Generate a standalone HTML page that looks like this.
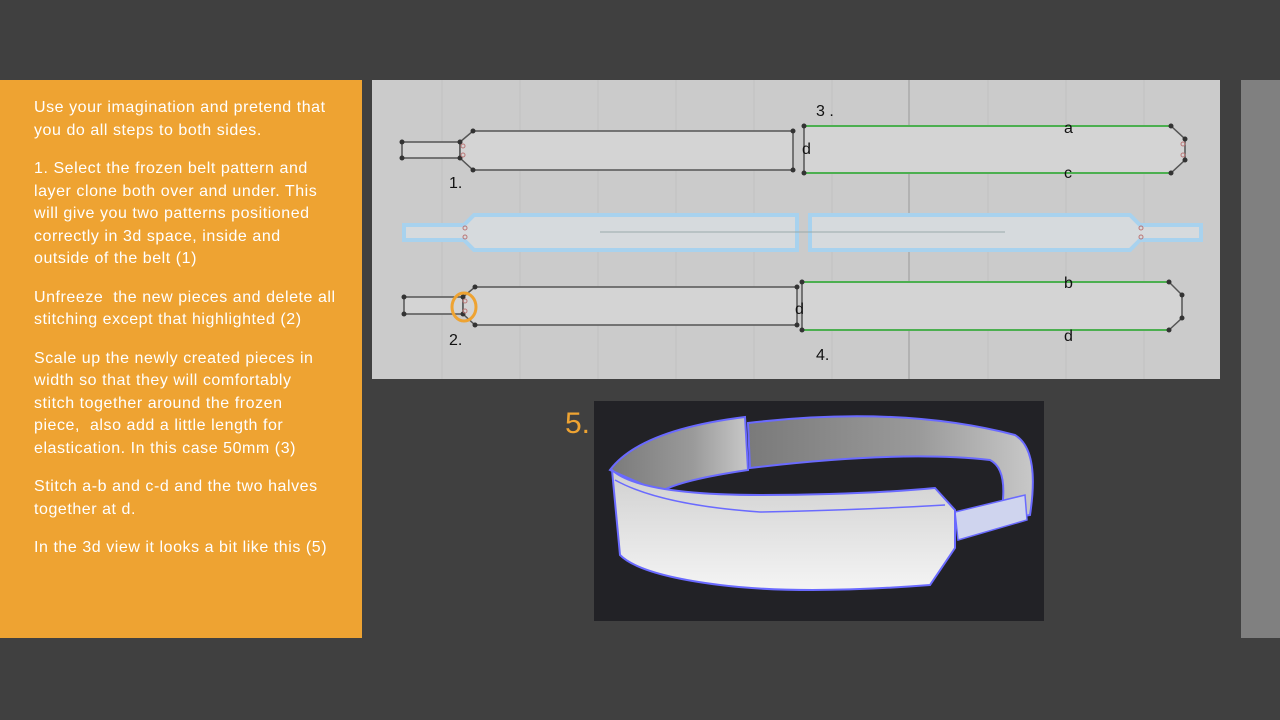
<!DOCTYPE html>
<html><head><meta charset="utf-8"><style>
body{margin:0;width:1280px;height:720px;background:#404040;overflow:hidden;position:relative;font-family:"Liberation Sans",sans-serif}
#panel{position:absolute;left:0;top:80px;width:362px;height:558px;background:#EEA332}
#txt{position:absolute;left:34px;top:97px;width:330px;color:#fff;font-size:16px;line-height:22.5px;white-space:nowrap;letter-spacing:0.55px}
#txt p{margin:0 0 16px 0}
#side{position:absolute;left:1241px;top:80px;width:39px;height:558px;background:#808080}
svg{position:absolute;left:0;top:0}
</style></head><body>
<div id="panel"></div>
<div id="side"></div>
<div id="txt">
<p>Use your imagination and pretend that<br>you do all steps to both sides.</p>
<p>1. Select the frozen belt pattern and<br>layer clone both over and under. This<br>will give you two patterns positioned<br>correctly in 3d space, inside and<br>outside of the belt (1)</p>
<p>Unfreeze &nbsp;the new pieces and delete all<br>stitching except that highlighted (2)</p>
<p>Scale up the newly created pieces in<br>width so that they will comfortably<br>stitch together around the frozen<br>piece, &nbsp;also add a little length for<br>elastication. In this case 50mm (3)</p>
<p>Stitch a-b and c-d and the two halves<br>together at d.</p>
<p>In the 3d view it looks a bit like this (5)</p>
</div>
<svg width="1280" height="720" font-family="Liberation Sans, sans-serif">
<defs>
<linearGradient id="g1" x1="0" y1="0" x2="0" y2="1"><stop offset="0" stop-color="#d0d0d0"/><stop offset="1" stop-color="#f4f4f4"/></linearGradient>
<linearGradient id="g2" x1="0" y1="0" x2="1" y2="0"><stop offset="0" stop-color="#7a7a7a"/><stop offset="0.6" stop-color="#9a9a9a"/><stop offset="1" stop-color="#c8c8c8"/></linearGradient>
</defs>
<rect x="372" y="80" width="848" height="299" fill="#cbcbcb"/>
<g stroke="#c2c2c2" stroke-width="1">
<line x1="442" y1="80" x2="442" y2="379"/><line x1="520" y1="80" x2="520" y2="379"/><line x1="598" y1="80" x2="598" y2="379"/><line x1="676" y1="80" x2="676" y2="379"/><line x1="754" y1="80" x2="754" y2="379"/><line x1="832" y1="80" x2="832" y2="379"/><line x1="988" y1="80" x2="988" y2="379"/><line x1="1066" y1="80" x2="1066" y2="379"/><line x1="1144" y1="80" x2="1144" y2="379"/>
</g>
<line x1="909" y1="80" x2="909" y2="379" stroke="#9a9a9a"/>
<g stroke="#555" stroke-width="1.5" fill="#d4d4d4">
<path d="M402 142 H460 V158 H402 Z"/>
<path d="M460 142 L473 131 H793 V170 H473 L460 158 Z"/>
<path d="M404 297 H463 V314 H404 Z"/>
<path d="M463 297 L475 287 H797 V325 H475 L463 314 Z"/>
</g>
<g stroke="#4caf50" stroke-width="2" fill="#d4d4d4">
<path d="M804 126 H1171 L1185 139 V160 L1171 173 H804 Z" stroke="none"/>
<line x1="804" y1="126" x2="1171" y2="126"/><line x1="804" y1="173" x2="1171" y2="173"/>
<path d="M802 282 H1169 L1182 295 V318 L1169 330 H802 Z" stroke="none"/>
<line x1="802" y1="282" x2="1169" y2="282"/><line x1="802" y1="330" x2="1169" y2="330"/>
</g>
<g stroke="#555" stroke-width="1.5" fill="none">
<line x1="804" y1="126" x2="804" y2="173"/><path d="M1171 126 L1185 139 V160 L1171 173"/>
<line x1="802" y1="282" x2="802" y2="330"/><path d="M1169 282 L1182 295 V318 L1169 330"/>
</g>
<g fill="#333">
<circle cx="402" cy="142" r="2.5"/><circle cx="402" cy="158" r="2.5"/><circle cx="460" cy="142" r="2.5"/><circle cx="460" cy="158" r="2.5"/><circle cx="473" cy="131" r="2.5"/><circle cx="473" cy="170" r="2.5"/><circle cx="793" cy="131" r="2.5"/><circle cx="793" cy="170" r="2.5"/>
<circle cx="804" cy="126" r="2.5"/><circle cx="804" cy="173" r="2.5"/><circle cx="1171" cy="126" r="2.5"/><circle cx="1171" cy="173" r="2.5"/><circle cx="1185" cy="139" r="2.5"/><circle cx="1185" cy="160" r="2.5"/>
<circle cx="404" cy="297" r="2.5"/><circle cx="404" cy="314" r="2.5"/><circle cx="463" cy="297" r="2.5"/><circle cx="463" cy="314" r="2.5"/><circle cx="475" cy="287" r="2.5"/><circle cx="475" cy="325" r="2.5"/><circle cx="797" cy="287" r="2.5"/><circle cx="797" cy="325" r="2.5"/>
<circle cx="802" cy="282" r="2.5"/><circle cx="802" cy="330" r="2.5"/><circle cx="1169" cy="282" r="2.5"/><circle cx="1169" cy="330" r="2.5"/><circle cx="1182" cy="295" r="2.5"/><circle cx="1182" cy="318" r="2.5"/>
</g>
<g fill="#d6dadd" stroke="#a8d2ee" stroke-width="4">
<path d="M404 225 H464 L474 215 H797 V250 H474 L464 240 H404 Z"/>
<path d="M810 215 H1130 L1140 225 H1201 V240 H1140 L1130 250 H810 Z"/>
</g>
<line x1="600" y1="232" x2="1005" y2="232" stroke="#9aa" stroke-width="1"/>
<g fill="none" stroke="#b77" stroke-width="1"><circle cx="465" cy="228" r="2"/><circle cx="465" cy="237" r="2"/><circle cx="1141" cy="228" r="2"/><circle cx="1141" cy="237" r="2"/><circle cx="463" cy="146" r="2"/><circle cx="463" cy="155" r="2"/><circle cx="465" cy="301" r="2"/><circle cx="465" cy="311" r="2"/><circle cx="1183" cy="144" r="2"/><circle cx="1183" cy="155" r="2"/></g>
<ellipse cx="464" cy="307" rx="12" ry="14" fill="none" stroke="#EEA332" stroke-width="3"/>
<g font-size="16" fill="#111">
<text x="449" y="188">1.</text><text x="449" y="345">2.</text><text x="816" y="116">3 .</text><text x="816" y="360">4.</text>
<text x="802" y="154">d</text><text x="795" y="314">d</text><text x="1064" y="133">a</text><text x="1064" y="178">c</text><text x="1064" y="288">b</text><text x="1064" y="341">d</text>
</g>
<rect x="594" y="401" width="450" height="220" fill="#222226"/>
<text x="565" y="433" font-size="30" fill="#EEA332">5.</text>
<path d="M610 470 Q640 430 745 417 L748 470 Q680 480 660 492 Z" fill="url(#g2)" stroke="#6a6aff" stroke-width="2"/>
<path d="M748 423 Q900 405 1015 435 Q1040 450 1030 515 L1000 520 Q1010 470 990 460 Q900 450 750 468 Z" fill="url(#g2)" stroke="#6a6aff" stroke-width="2"/>
<path d="M955 512 L1025 495 L1027 520 L958 540 Z" fill="#cfd4ee" stroke="#6a6aff" stroke-width="1.5"/>
<path d="M612 470 Q640 495 760 495 Q860 495 935 488 L955 510 L955 548 L930 585 Q800 595 720 585 Q640 575 620 555 Z" fill="url(#g1)" stroke="#6a6aff" stroke-width="2"/>
<path d="M615 480 Q660 505 760 512 Q860 510 945 505" fill="none" stroke="#6a6aff" stroke-width="1.5"/>
</svg>
</body></html>
